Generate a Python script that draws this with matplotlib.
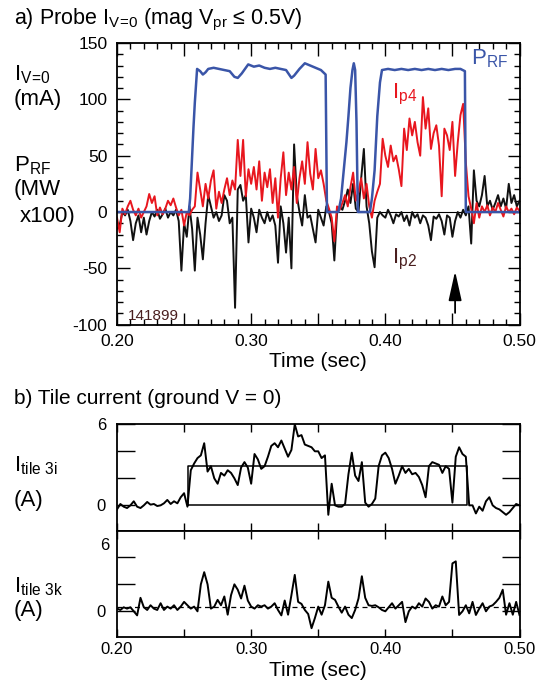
import matplotlib
matplotlib.use('Agg')
import matplotlib.pyplot as plt
import numpy as np
from matplotlib.ticker import MultipleLocator, FuncFormatter, FixedLocator

plt.rcParams['font.family'] = ['Liberation Sans', 'DejaVu Sans']
plt.rcParams['mathtext.fontset'] = 'custom'
plt.rcParams['mathtext.rm'] = 'Liberation Sans'
plt.rcParams['mathtext.it'] = 'Liberation Sans:italic'
plt.rcParams['mathtext.bf'] = 'Liberation Sans:bold'
plt.rcParams['axes.unicode_minus'] = False

# ---- panel a: probe currents (mA), sampled every 2 ms ----
t_probe = np.round(np.arange(0.200, 0.5001, 0.002), 3)

ip2 = [-15, -12, 0, -3, 2, -8, -25, -10, -3, -18,
       -5, -20, -8, 0, -4, 2, -6, -2, 3, -5,
       0, -3, 2, -8, -52, -10, -22, 5, -15, -52,
       -5, -20, -42, -10, 15, 5, -5, 0, -8, -3,
       15, 10, -10, -5, -85, 20, 24, 10, 15, -27,
       3, -5, -18, 2, -5, -10, 0, -8, -3, -12,
       -45, 5, -10, -36, -5, -50, 60, 15, 0, -12,
       15, -5, -3, -15, -27, 2, -5, -12, 5, 0,
       -10, -43, 0, 5, 2, 10, 20, 8, 25, 3,
       0, 30, 56, 5, -10, -35, -49, -5, 0, -3,
       -5, 2, -3, -10, -2, -4, 0, -8, -3, -12,
       0, -5, -2, -10, -3, -5, -12, -25, -4, -6,
       -2, -8, -20, -3, -5, -22, -8, 0, -5, 2,
       -3, 5, -28, 37, 10, 5, 15, 32, 5, 10,
       2, 8, 15, 5, 12, 3, 25, 8, 15, 5,
       10]

ip4 = [-5, -18, 3, -2, 5, 10, 2, -3, 3, -5,
       0, 5, 16, 8, 14, -3, 4, -2, 3, 10,
       6, 12, 4, -3, 2, -12, 0, -3, 2, 5,
       35, 20, 5, 25, 12, 28, 37, 3, 18, 8,
       20, 30, 15, 28, 20, 64, 32, 64, 14, 38,
       25, 40, 20, 45, 10, 35, 22, 38, 8, 30,
       -5, 30, 53, 15, 35, 20, 40, 8, 30, 45,
       25, 62, 34, 20, 56, 30, 37, 25, 10, 3,
       -5, -26, 5, 2, 8, 15, 5, 22, 35, 10,
       18, 30, 12, 25, 5, -5, 10, 18, 25, 65,
       50, 40, 59, 45, 50, 38, 23, 74, 55, 83,
       68, 80, 62, 50, 102, 74, 92, 56, 70, 77,
       59, 14, 74, 68, 55, 80, 32, 62, 86, 96,
       44, 14, 3, -10, 8, -5, 5, 0, 6, -3,
       4, 0, 8, 2, -4, 5, 0, 3, -2, 4,
       1]

# RF power (MW x100)
prf_t = [0.200, 0.2535, 0.2545, 0.2555, 0.257, 0.258, 0.2597, 0.262, 0.264, 0.266,
         0.268, 0.272, 0.276, 0.280, 0.284, 0.2875, 0.290, 0.293, 0.2978, 0.302,
         0.306, 0.310, 0.314, 0.318, 0.322, 0.326, 0.330, 0.332, 0.336, 0.340,
         0.344, 0.348, 0.352, 0.3555, 0.3565, 0.365, 0.367, 0.369, 0.371, 0.3725,
         0.374, 0.3755, 0.3765, 0.3775, 0.3785, 0.3795, 0.3885, 0.390, 0.392, 0.394,
         0.396, 0.3975, 0.402, 0.407, 0.412, 0.417, 0.422, 0.427, 0.432, 0.437,
         0.442, 0.447, 0.452, 0.456, 0.4593, 0.4600, 0.500]
prf_v = [0, 0, 12, 37, 75, 97, 127, 125, 122, 124,
         127, 128, 127, 126, 125, 120, 119, 123, 131, 129,
         130, 128, 127, 128, 127, 126, 119, 121, 127, 132,
         130, 128, 126, 122, 0, 0, 12, 37, 62, 85,
         110, 126, 132, 126, 80, 0, 0, 12, 37, 85,
         115, 126, 127, 126, 127, 126, 127, 126, 127, 126,
         127, 126, 127, 127, 125, 0, 0]

# ---- panel b: tile currents (A), sampled every 2.5 ms ----
t_tile = np.round(np.arange(0.200, 0.50001, 0.0025), 4)

tile3i = [-0.3, 0.1, -0.1, -0.2, 0.0, 0.3, -0.1, -0.2, 0.0, 0.25,
          0.05, 0.1, -0.05, 0.0, 0.15, 0.4, 0.1, 0.3, 0.15, 0.6,
          0.9, -0.1, 2.6, 3.1, 3.5, 3.7, 4.6, 2.5, 2.9, 2.0,
          1.6, 2.4, 2.2, 2.6, 2.4, 2.0, 1.5, 2.8, 3.2, 2.8,
          1.6, 3.8, 3.4, 2.7, 2.9, 3.6, 4.4, 4.6, 4.3, 4.8,
          4.2, 3.6, 4.1, 6.0, 5.1, 5.2, 4.5, 4.4, 4.3, 4.0,
          4.0, 3.5, 3.7, -0.7, 1.6, 0.0, -0.1, -0.1, 0.1, 2.3,
          3.9, 2.2, 1.8, 3.2, 0.2, -0.1, 0.1, 0.5, 2.9, 3.7,
          3.9, 3.5, 2.7, 1.6, 2.2, 2.9, 2.4, 2.7, 2.3, 2.4,
          2.1, 1.5, 0.6, 2.9, 3.2, 3.1, 3.0, 2.4, 2.9, 2.7,
          0.2, 3.6, 4.3, 3.8, 3.6, 0.0, 0.0, -0.6, -0.1, -0.4,
          0.3, 0.6, 0.0, -0.2, -0.3, -0.5, -0.7, -0.5, -0.2, 0.1,
          0.0]

tile3k = [0.2, 0.1, 0.3, 0.2, 0.3, 0.0, -0.3, 1.0, 0.3, 0.1,
          0.45, 0.2, 0.1, 0.6, 0.1, 0.35, 0.2, 0.45, 0.1, 0.35,
          0.7, 0.45, 0.2, 0.35, 0.0, 2.0, 2.9, 2.0, 0.2, 0.35,
          0.85, 0.45, 1.1, -0.25, 1.2, 2.0, 1.6, 0.95, 1.9, 0.8,
          0.35, 0.2, 0.45, 0.35, 0.45, 0.2, 0.35, 0.6, 0.1, -0.3,
          0.8, -0.25, 1.2, 2.7, 0.7, 0.55, 0.1, -0.2, -1.25, -0.5,
          0.35, -0.25, 0.45, 2.2, 1.0, 0.85, 0.35, -0.1, 0.35, -0.25,
          -0.5, 0.1, 0.95, 2.6, 1.0, 0.45, 0.4, 0.45, 0.3, 0.1,
          0.0, 0.3, 0.6, 0.2, 0.45, 0.7, -0.8, 0.0, 0.35, 0.2,
          0.6, 0.35, 0.95, 0.7, 0.2, 0.45, 0.35, 1.1, 0.45, 0.7,
          3.55, 3.7, -0.27, 0.0, 0.45, -0.15, 0.7, -0.27, 0.2, 0.6,
          0.0, 0.35, 0.45, 0.7, 1.0, 1.6, -0.25, 0.6, -0.25, 0.7,
          -0.27]

# RF-on window drawn in the 3i panel, and the 3k baseline level
rf_box_t = [0.2528, 0.2528, 0.4606, 0.4606, 0.2528]
rf_box_v = [0.0, 2.93, 2.93, 0.0, 0.0]
tile3k_base = 0.34

BLUE = '#3a55a8'
RED = '#e8161e'
DARK = '#4a1f1f'

W, H = 544, 692
fig = plt.figure(figsize=(W / 100, H / 100), dpi=100)


def box(l, t, r, b):
    return [l / W, 1 - b / H, (r - l) / W, (b - t) / H]


def ftext(x, y, s, **kw):
    fig.text(x / W, 1 - y / H, s, va='baseline', **kw)


def label_tenths(v, pos):
    return '%.2f' % v if round(v * 100) % 10 == 0 else ''


V0 = '$_{\\mathrm{V}\\!=\\!\\mathrm{0}}$'

# ---------------- panel a ----------------
ax = fig.add_axes(box(117, 43, 519.5, 324.7))
ax.axhline(0, color='black', lw=0.8)
ax.plot(t_probe, ip2, color='#111111', lw=1.4)
ax.plot(t_probe, ip4, color=RED, lw=1.4)
ax.plot(prf_t, prf_v, color=BLUE, lw=1.8)
ax.set_xlim(0.2, 0.5)
ax.set_ylim(-100, 150)
ax.xaxis.set_major_locator(MultipleLocator(0.05))
ax.xaxis.set_minor_locator(MultipleLocator(0.01))
ax.xaxis.set_major_formatter(FuncFormatter(label_tenths))
ax.yaxis.set_major_locator(MultipleLocator(50))
ax.yaxis.set_minor_locator(MultipleLocator(10))
ax.tick_params(which='both', direction='in', top=True, right=True, labelsize=12.5, width=1)
ax.tick_params(which='major', length=9, pad=7)
ax.tick_params(which='minor', length=4.5)
for s in ax.spines.values():
    s.set_linewidth(1.3)
ax.set_xlabel('Time (sec)', fontsize=15, labelpad=2)

ax.text(0.464, 131, 'P$_{\\mathrm{RF}}$', color=BLUE, fontsize=16, va='baseline')
ax.text(0.405, 101, 'I$_{\\mathrm{p4}}$', color=RED, fontsize=16, va='baseline')
ax.text(0.405, -46, 'I$_{\\mathrm{p2}}$', color=DARK, fontsize=16, va='baseline')
ax.text(0.208, -96, '141899', color=DARK, fontsize=11, va='baseline')
ax.annotate('', xy=(0.452, -50), xytext=(0.452, -92),
            arrowprops=dict(arrowstyle='-|>,head_length=0.9,head_width=0.2',
                            mutation_scale=20, color='black', lw=1.3))

ftext(14, 24, 'a) Probe I' + V0 + ' (mag V$_{\\mathrm{pr}}$ \u2264 0.5V)', fontsize=15.5)
ftext(14, 80, 'I' + V0, fontsize=16)
ftext(14, 105, '(mA)', fontsize=16)
ftext(14, 171, 'P$_{\\mathrm{RF}}$', fontsize=16)
ftext(14, 194.5, '(MW', fontsize=16)
ftext(20, 221.5, 'x100)', fontsize=16)

# ---------------- panel b ----------------
ax1 = fig.add_axes(box(117, 424.3, 519.5, 531))
ax2 = fig.add_axes(box(117, 531, 519.5, 636.7))

ax1.plot(rf_box_t, rf_box_v, color='black', lw=1.1)
ax1.plot(t_tile, tile3i, color='black', lw=1.4)
ax1.set_ylim(-1.9, 6.0)

ax2.axhline(tile3k_base, color='black', lw=0.9, ls=(0, (4, 3)))
ax2.plot(t_tile, tile3k, color='black', lw=1.4)
ax2.set_ylim(-1.88, 5.95)

for a in (ax1, ax2):
    a.set_xlim(0.2, 0.5)
    a.xaxis.set_major_locator(MultipleLocator(0.05))
    a.xaxis.set_major_formatter(FuncFormatter(label_tenths))
    a.yaxis.set_major_locator(FixedLocator([0, 2, 4, 6]))
    a.tick_params(direction='in', top=True, right=True, labelsize=12, width=1)
    a.tick_params(axis='x', length=6, pad=4)
    a.tick_params(axis='y', length=13, pad=8)
    for s in a.spines.values():
        s.set_linewidth(1.3)

ax1.set_yticklabels(['0', '', '', '6'])
ax1.tick_params(axis='x', labelbottom=False)
ax2.set_yticklabels(['0', '', '', ''])
ax2.text(-0.02, 4.9, '6', transform=ax2.get_yaxis_transform(), ha='right', va='center', fontsize=12)
ax2.set_xlabel('Time (sec)', fontsize=15, labelpad=3)

ftext(14, 404, 'b) Tile current (ground V = 0)', fontsize=15)
ftext(14, 471, 'I$_{\\mathrm{tile\\ 3i}}$', fontsize=16)
ftext(14, 506, '(A)', fontsize=16)
ftext(14, 592, 'I$_{\\mathrm{tile\\ 3k}}$', fontsize=16)
ftext(14, 616, '(A)', fontsize=16)

fig.savefig('out.png', dpi=100)
